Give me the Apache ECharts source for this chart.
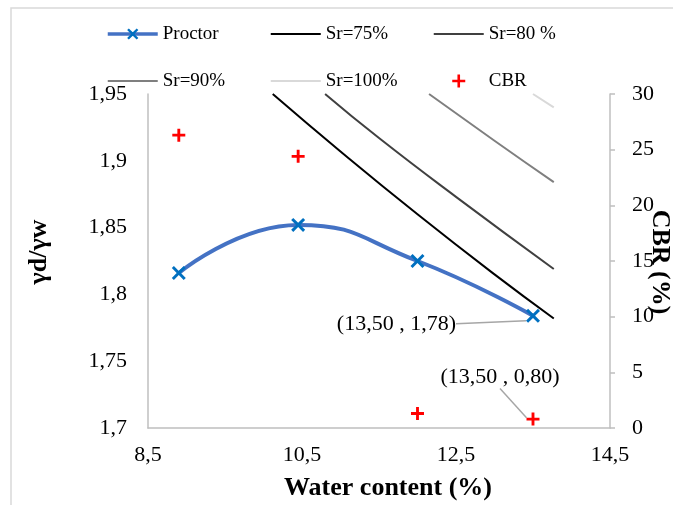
<!DOCTYPE html>
<html>
<head>
<meta charset="utf-8">
<script src="https://cdn.jsdelivr.net/npm/echarts@6/dist/echarts.min.js"></script>
<style>html,body{margin:0;padding:0;background:#fff}#c{width:673px;height:505px}</style>
</head>
<body>
<div id="c"></div>
<script>
// ---- data ----
const proctorWater = [8.9, 10.45, 12.0, 13.5];
const proctorDensity = [1.816, 1.852, 1.825, 1.784];
const cbrWater = [8.9, 10.45, 12.0, 13.5];
const cbrValues = [26.3, 24.4, 1.3, 0.8];
const sr75 = [[10.12, 1.950], [11, 1.907], [12, 1.860], [13, 1.815], [13.77, 1.782]];
const sr80 = [[10.8, 1.950], [11.5, 1.917], [12.5, 1.873], [13.77, 1.819]];
const sr90 = [[12.15, 1.950], [13, 1.915], [13.77, 1.884]];
const sr100 = [[13.5, 1.950], [13.77, 1.940]];
const proctorNote = '(13,50 , 1,78)';
const cbrNote = '(13,50 , 0,80)';
const seriesNames = ['Proctor', 'Sr=75%', 'Sr=80 %', 'Sr=90%', 'Sr=100%', 'CBR'];
const xTitle = 'Water content (%)';
const yTitle = 'γd/γw';
const y2Title = 'CBR (%)';

const FONT = '"Liberation Serif", "Times New Roman", serif';
const X_PATH = 'path://M1.5,0L5,3.5L8.5,0L10,1.5L6.5,5L10,8.5L8.5,10L5,6.5L1.5,10L0,8.5L3.5,5L0,1.5Z';
const PLUS_PATH = 'path://M3.9,0H6.1V3.9H10V6.1H6.1V10H3.9V6.1H0V3.9H3.9Z';
const LINE_ICON = 'path://M0,0H50V2H0Z';
const CBR_ICON = 'path://M0,0L0.01,0L0,0.01Z M50,14L49.99,14L50,13.99Z M23.7,0.5H26.3V5.7H31.5V8.3H26.3V13.5H23.7V8.3H18.5V5.7H23.7Z';
const comma = v => String(+(+v).toFixed(2)).replace('.', ',');

const last = proctorWater.length - 1;
const proctorData = proctorWater.map((w, i) => {
  const d = { value: [w, proctorDensity[i]] };
  if (i === last) d.label = { show: true, formatter: proctorNote };
  return d;
});
const cbrData = cbrWater.map((w, i) => {
  const d = { value: [w, cbrValues[i]] };
  if (i === last) d.label = { show: true, formatter: cbrNote };
  return d;
});

const chart = echarts.init(document.getElementById('c'), null, { renderer: 'canvas' });
const labelText = { fontFamily: FONT, fontSize: 22, color: '#000' };

function srSeries(name, data, color) {
  return {
    name, type: 'line', data, smooth: true, showSymbol: false, symbol: 'none',
    lineStyle: { color, width: 2 }, itemStyle: { color }, z: 2, clip: true
  };
}

chart.setOption({
  animation: false,
  backgroundColor: '#fff',
  textStyle: { fontFamily: FONT },
  grid: { left: 148, right: 63, top: 94, bottom: 77 },
  legend: {
    left: 101, top: 5.5, width: 500, itemGap: 0, itemWidth: 50, itemHeight: 14,
    data: [
      { name: seriesNames[0], lineStyle: { width: 3.5 } },
      { name: seriesNames[1], icon: LINE_ICON },
      { name: seriesNames[2], icon: LINE_ICON },
      { name: seriesNames[3], icon: LINE_ICON },
      { name: seriesNames[4], icon: LINE_ICON },
      { name: seriesNames[5], icon: CBR_ICON }
    ],
    textStyle: { fontFamily: FONT, fontSize: 19, color: '#000', width: 108, lineHeight: 47 }
  },
  xAxis: {
    type: 'value', min: 8.5, max: 14.5, interval: 2,
    axisLine: { show: true, lineStyle: { color: '#BFBFBF', width: 1.5 } },
    axisTick: { show: false }, splitLine: { show: false },
    axisLabel: Object.assign({ margin: 16, formatter: comma }, labelText)
  },
  yAxis: [{
    type: 'value', min: 1.7, max: 1.95, interval: 0.05,
    axisLine: { show: true, lineStyle: { color: '#BFBFBF', width: 1.5 } },
    axisTick: { show: false }, splitLine: { show: false },
    axisLabel: Object.assign({ margin: 21, formatter: comma }, labelText)
  }, {
    type: 'value', min: 0, max: 30, interval: 5, position: 'right',
    axisLine: { show: true, lineStyle: { color: '#BFBFBF', width: 1.5 } },
    axisTick: { show: true, length: 5, lineStyle: { color: '#BFBFBF', width: 1.5 } },
    splitLine: { show: false },
    axisLabel: Object.assign({ margin: 22 }, labelText)
  }],
  graphic: [
    { type: 'rect', shape: { x: 11, y: 8, width: 700, height: 600 }, style: { fill: 'none', stroke: '#D9D9D9', lineWidth: 1.5 }, silent: true, z: -10 },
    { type: 'text', x: 388, y: 488, style: { text: xTitle, font: 'bold 26px ' + FONT, fill: '#000', align: 'center', verticalAlign: 'middle' } },
    { type: 'text', x: 39, y: 252, rotation: Math.PI / 2, style: { text: yTitle, font: 'bold 26px ' + FONT, fill: '#000', align: 'center', verticalAlign: 'middle' } },
    { type: 'text', x: 660, y: 262, rotation: -Math.PI / 2, style: { text: y2Title, font: 'bold 26px ' + FONT, fill: '#000', align: 'center', verticalAlign: 'middle' } }
  ],
  series: [
    {
      name: seriesNames[0], type: 'line', data: proctorData, smooth: 0.5,
      symbol: X_PATH, symbolSize: 14,
      lineStyle: { color: '#4472C4', width: 4 },
      itemStyle: { color: '#0070C0' }, z: 5,
      label: Object.assign({ show: false, position: 'left', distance: 5 }, labelText),
      labelLine: { show: true, lineStyle: { color: '#A6A6A6', width: 1.5 } },
      labelLayout: { dx: -65, dy: 8 }
    },
    srSeries(seriesNames[1], sr75, '#000000'),
    srSeries(seriesNames[2], sr80, '#404040'),
    srSeries(seriesNames[3], sr90, '#7F7F7F'),
    srSeries(seriesNames[4], sr100, '#D9D9D9'),
    {
      name: seriesNames[5], type: 'scatter', yAxisIndex: 1, data: cbrData,
      symbol: PLUS_PATH, symbolSize: 13, itemStyle: { color: '#FF0000', opacity: 1 }, z: 6,
      label: Object.assign({ show: false, position: 'top', distance: 5, opacity: 1 }, labelText),
      labelLine: { show: true, lineStyle: { color: '#A6A6A6', width: 1.5 } },
      labelLayout: { dx: -33, dy: -19 }
    }
  ]
});
</script>
</body>
</html>
